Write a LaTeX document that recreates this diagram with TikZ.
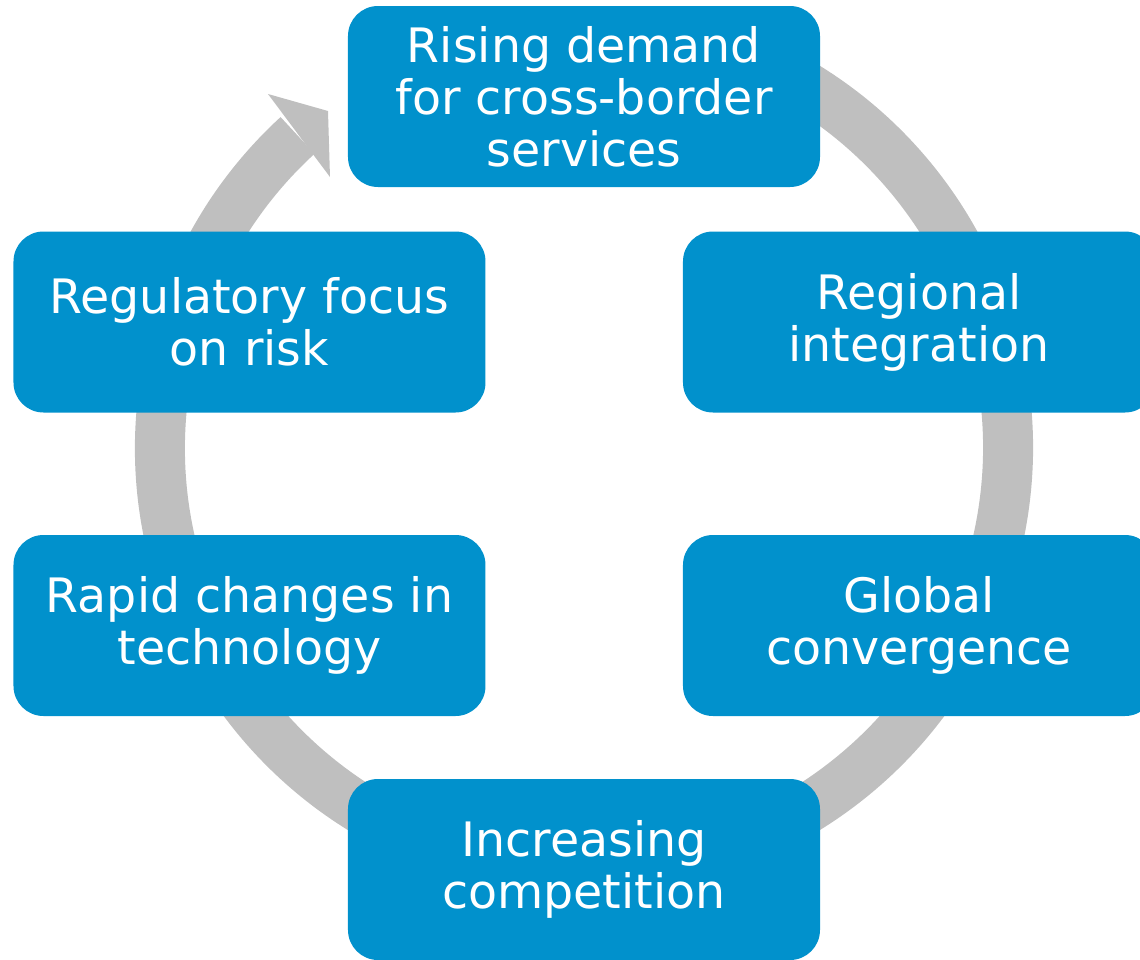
\documentclass[tikz,border=0pt]{standalone}
\usepackage{fontspec}
\setmainfont{DejaVu Sans}
\usetikzlibrary{calc}
\definecolor{cyc}{RGB}{1,145,204}
\definecolor{cycring}{RGB}{191,191,191}
\begin{document}
\begin{tikzpicture}[x=1cm, y=1cm,
  stage/.style={draw=none, fill=cyc, rounded corners=0.6cm, inner sep=0pt,
                minimum width=9.44cm, minimum height=3.62cm, anchor=center,
                align=center, text=white, font=\fontsize{27}{29.6}\selectfont},
  ring/.style={draw=cycring, line width=1cm},
  ringhead/.style={fill=cycring, draw=none}]
\useasboundingbox (-11.68,-10.22) rectangle (11.12,8.96);
\coordinate (ctr) at (0,0);
% cycle ring behind the boxes
\draw[ring] ($(ctr)+(78:8.48)$) arc[start angle=78, end angle=-227.5, radius=8.48];
\coordinate (hout) at (-6.32,7.08);
\coordinate (htip) at (-5.12,6.74);
\coordinate (hin)  at (-5.08,5.42);
\fill[ringhead] (hout) -- (htip) -- (hin) -- cycle;
% stages
\node[stage] (dem) at (0,7.03)     {Rising demand\\for cross-border\\services};
\node[stage] (reg) at (6.70,2.52)  {Regional\\integration};
\node[stage] (glo) at (6.70,-3.55) {Global\\convergence};
\node[stage] (com) at (0,-8.43)    {Increasing\\competition};
\node[stage] (tec) at (-6.69,-3.55) {Rapid changes in\\technology};
\node[stage] (rsk) at (-6.69,2.52) {Regulatory focus\\on risk};
\end{tikzpicture}
\end{document}
